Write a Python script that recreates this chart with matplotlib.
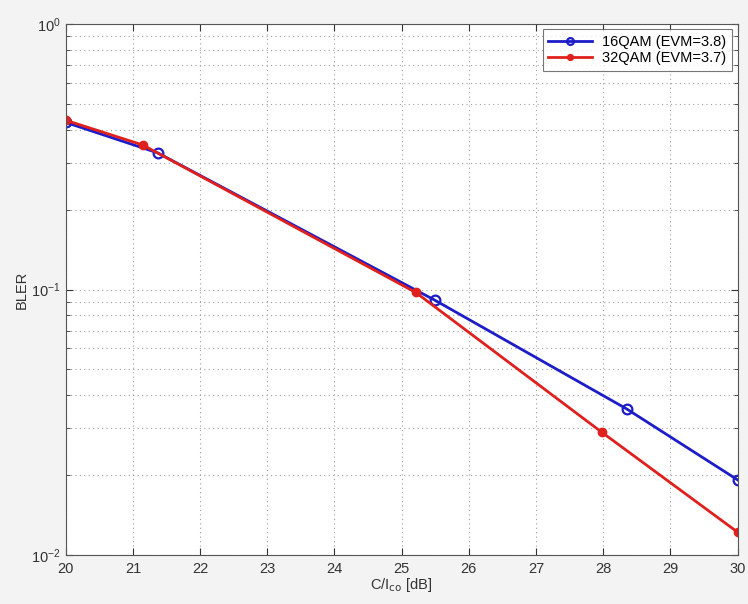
import matplotlib
matplotlib.use("Agg")
import matplotlib.pyplot as plt
from matplotlib.ticker import LogLocator, FixedLocator, NullFormatter

plt.rcParams["font.family"] = ["Liberation Sans", "DejaVu Sans"]

# 16QAM (EVM=3.8)
x_16 = [20.0, 21.37, 25.50, 28.35, 30.0]
y_16 = [0.426, 0.327, 0.091, 0.0355, 0.0192]
# 32QAM (EVM=3.7)
x_32 = [20.0, 21.15, 25.21, 27.98, 30.0]
y_32 = [0.434, 0.350, 0.0975, 0.0290, 0.0122]

labels = ["16QAM (EVM=3.8)", "32QAM (EVM=3.7)"]
xticks = list(range(20, 31))

fig = plt.figure(figsize=(7.48, 6.04), dpi=100, facecolor="#f3f3f3")
ax = fig.add_axes([65.7 / 748, 1 - 555 / 604, (737.5 - 65.7) / 748, (555 - 24) / 604])
ax.set_facecolor("white")

ax.plot(x_16, y_16, color="#1c1cc8", lw=2, marker="o", ms=7, mfc="none",
        mec="#1c1cc8", mew=1.6, label=labels[0])
ax.plot(x_32, y_32, color="#e0201c", lw=2, marker="o", ms=6, mfc="#e0201c",
        mec="#e0201c", label=labels[1])

ax.set_yscale("log")
ax.set_xlim(20, 30)
ax.set_ylim(1e-2, 1)
ax.xaxis.set_major_locator(FixedLocator(xticks))
ax.yaxis.set_major_locator(LogLocator(base=10))
ax.yaxis.set_minor_locator(LogLocator(base=10, subs=range(2, 10)))
ax.yaxis.set_minor_formatter(NullFormatter())

ax.grid(True, which="major", ls=(0, (1, 3)), color="#a0a0a0", lw=0.8)
ax.grid(True, which="minor", axis="y", ls=(0, (1, 3)), color="#a0a0a0", lw=0.8)

ax.tick_params(which="both", direction="in", top=True, right=True,
               labelsize=10.5, colors="#333333")
ax.tick_params(which="major", length=5)
ax.tick_params(which="minor", length=3)
ax.tick_params(axis="x", pad=5)
for s in ax.spines.values():
    s.set_color("#555555")
    s.set_linewidth(0.8)

ax.set_xlabel("C/I$_{\\rm co}$ [dB]", fontsize=10.5, color="#333333", labelpad=0)
ax.set_ylabel("BLER", fontsize=10.5, color="#333333", labelpad=2)

leg = ax.legend(loc="upper right", fontsize=10.5, frameon=True, fancybox=False,
                borderaxespad=0.35, handlelength=3.0, borderpad=0.4,
                labelspacing=0.15, handletextpad=0.7, markerscale=0.7)
leg.get_frame().set_edgecolor("#555555")
leg.get_frame().set_linewidth(0.8)

fig.savefig("out.png", dpi=100, facecolor=fig.get_facecolor())
